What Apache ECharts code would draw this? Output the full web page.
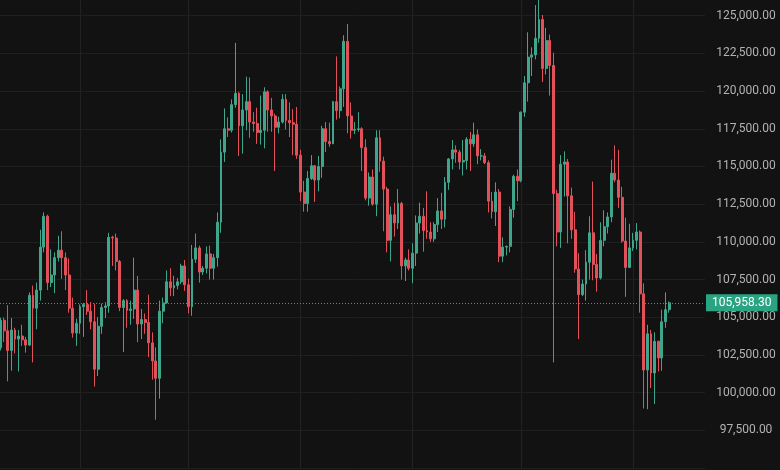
<!DOCTYPE html>
<html><head><meta charset="utf-8">
<script src="https://cdn.jsdelivr.net/npm/echarts@6/dist/echarts.min.js"></script>
<style>html,body{margin:0;padding:0;background:#121212;overflow:hidden;width:780px;height:470px;}
#c{position:absolute;left:0;top:-22px;width:780px;height:492px;}</style>
</head><body><div id="c"></div>
<script>
// Daily candles, rows are [open, high, low, close]
const mayRows = [ // from May 10
[102970,104970,102800,104800],[104800,104980,103350,104100],[104100,105800,100750,102800],[102800,104950,101450,104150],
[104150,104300,102600,103550],[103550,104150,101400,103750],[103750,104500,103100,103500],[103500,103700,102650,103150],
[103150,106650,103100,106450],[106450,107100,102000,105600],[105600,107300,104200,106800],[106800,110800,106100,109650],
[109650,111950,109300,111700],[111700,111800,106800,107300],[107300,109500,107000,107800],[107800,109300,106600,108950],
[108950,110400,108700,109450],[109450,110700,107550,108950],[108950,109300,106800,107800],[107800,108900,105300,105600],
[105600,106300,103650,103950],[103950,104900,103100,104600]];
const junRows = [
[104600,105850,103900,105700],[105700,105950,103700,105850],[105850,106800,105150,105400],[105400,106000,104200,104700],
[104700,105900,100400,101550],[101550,105000,101100,104400],[104400,105900,103900,105650],[105650,106000,104950,105750],
[105750,110600,105300,110300],[110300,110400,108400,110250],[110250,110550,108100,108700],[108700,108800,105400,105650],
[105650,106200,102700,106100],[106100,106200,104300,105450],[105450,106100,104500,105550],[105550,108950,104900,106800],
[106800,107750,103350,104550],[104550,105550,103550,104850],[104850,105250,103900,104650],[104650,106500,102350,103300],
[103300,104000,100850,102100],[102100,103000,98200,100950],[100950,106100,99600,105400],[105400,106300,104600,105950],
[105950,108100,105900,107350],[107350,108250,106400,106950],[106950,107750,106400,107100],[107100,107600,106850,107350],
[107350,108550,107200,108400],[108400,108800,106750,107150]];
const julRows = [
[107150,107550,105250,105700],[105700,109800,105100,108850],[108850,110550,108600,109600],[109600,109750,107300,108000],
[108000,108400,107800,108250],[108250,109700,107900,109200],[109200,109750,107500,108250],[108250,109200,107500,108950],
[108950,111950,108350,111300],[111300,116800,110600,115950],[115950,118850,115300,117500],[117500,118250,116950,117400],
[117400,119450,117250,119100],[119100,123200,118900,119850],[119850,119950,115700,117700],[117700,119800,115850,118750],
[118750,120950,117400,119300],[119300,120900,116900,117950],[117950,118600,117300,117850],[117850,118900,116500,117250],
[117250,119700,116450,117400],[117400,120250,116200,119950],[119950,120050,117300,118750],[118750,119550,117300,118350],
[118350,118500,114700,117600],[117600,118300,117200,117950],[117950,119800,117850,119450],[119450,119800,117450,118050],
[118050,119250,116950,117900],[117900,118800,115750,117800],[117800,118950,115500,115750]];
const augRows = [
[115750,116100,112700,113300],[113300,114050,112000,112550],[112550,114700,112000,114200],[114200,115750,114100,115050],
[115050,115100,112650,114100],[114100,115700,113350,115000],[115000,117700,114250,117500],[117500,117950,115950,116650],
[116650,117900,116300,116500],[116500,119350,116500,119300],[119300,122300,118100,118700],[118700,120300,118200,120150],
[120150,123700,118950,123300],[123300,124450,117200,118350],[118350,119250,116850,117400],[117400,117950,117150,117450],
[117450,118600,117300,117500],[117500,117600,114700,116250],[116250,116800,112750,112900],[112900,114600,112400,114300],
[114300,114800,112400,112500],[112500,117400,111700,116900],[116900,117400,114650,115350],[115350,115650,110700,113500],
[113500,113650,109300,110100],[110100,112350,108700,111800],[111800,112600,110350,111250],[111250,113500,110850,112550],
[112550,112650,107500,108400],[108400,108950,107400,108800],[108800,109500,108100,108250]];
const sepRows = [
[108250,109900,107250,109250],[109250,111750,108400,111250],[111250,112600,110550,111700],[111700,112250,109350,110750],
[110750,113350,110200,110650],[110650,111300,110000,110200],[110200,111300,110000,111150],[111150,112900,110650,112050],
[112050,113250,110850,111500],[111500,114300,110950,113950],[113950,115550,113450,115500],[115500,116750,114800,116100],
[116100,116400,115250,115950],[115950,116100,114800,115300],[115300,116750,114400,115400],[115400,116950,114800,116800],
[116800,117300,114700,116500],[116500,117900,116300,117100],[117100,117450,115150,115700],[115700,116150,115400,115700],
[115700,115900,115150,115250],[115250,115400,111950,112700],[112700,113300,111550,112000],[112000,113950,111050,113300],
[113300,113500,108650,109050],[109050,110300,108650,109650],[109650,109750,109100,109700],[109700,112350,109300,112150],
[112150,114450,111600,114350],[114350,114800,112700,114050]];
const octRows = [
[114050,118650,113950,118600],[118600,121000,118300,120550],[120550,123900,119300,122250],[122250,122900,121000,122400],
[122400,125700,122100,123500],[123500,126200,123200,124750],[124750,125050,120600,121500],[121500,124200,121100,123350],
[123350,123750,119700,121700],[121700,122550,102000,113200],[113200,113450,109700,110650],[110650,115750,109600,115150],
[115150,116000,113000,115300],[115300,115500,109900,113050],[113050,113600,110200,110800],[110800,112000,107950,108200],
[108200,109250,103550,106500],[106500,107500,106400,107200],[107200,109450,106100,108650],[108650,111700,107500,110600],
[110600,114000,107450,108500],[108500,109200,106700,107600],[107600,111300,107500,110100],[110100,112100,109700,111000],
[111000,111950,110550,111650],[111650,115450,111300,114550],[114550,116400,113950,114100],[114100,116100,112250,112950],
[112950,113650,109950,110050],[110050,111600,106350,108300],[108300,111200,108300,109600]];
const novRows = [
[109600,110600,109400,110100],[110100,111250,109500,110650],[110650,110750,105300,106550],[106550,107250,98950,101500],
[101500,104500,98900,103900],[103900,104150,100300,101300],[101300,104000,99250,103400],[103400,103450,101400,102300],
[102300,105500,101450,104700],[104700,106650,104300,105500],[105500,106050,105300,105958.3]];

const months = [
  {y:2025, m:5, d0:10, rows:mayRows},{y:2025, m:6, d0:1, rows:junRows},{y:2025, m:7, d0:1, rows:julRows},
  {y:2025, m:8, d0:1, rows:augRows},{y:2025, m:9, d0:1, rows:sepRows},{y:2025, m:10, d0:1, rows:octRows},
  {y:2025, m:11, d0:1, rows:novRows}];
const monthStarts = ['2025-06-01','2025-07-01','2025-08-01','2025-09-01','2025-10-01','2025-11-01'];
const lastPrice = 105958.30;
const yTicks = {min:95000, max:127500, step:2500};

function pad(n){return (n<10?'0':'')+n;}
const candles = [];
months.forEach(mo => mo.rows.forEach((r,k) => {
  candles.push([mo.y+'-'+pad(mo.m)+'-'+pad(mo.d0+k), r[0], r[3], r[2], r[1]]);
}));
function fmt(v){
  const s = v.toFixed(2); const parts = s.split('.');
  return parts[0].replace(/\B(?=(\d{3})+(?!\d))/g, ',') + '.' + parts[1];
}
function toTs(s){const p=s.split('-');return +new Date(+p[0],+p[1]-1,+p[2]);}

const UP='#3fa68b', DOWN='#e2505a', TEAL='#2aa383';
const chart = echarts.init(document.getElementById('c'), null, {renderer:'canvas'});
chart.setOption({
  backgroundColor:'#121212',
  animation:false,
  grid:{left:0, right:75, top:0, bottom:2},
  xAxis:{type:'time',
    min: +new Date(2025,4,9,20,41), max: +new Date(2025,10,20,22,22),
    axisLine:{show:false}, axisTick:{show:false}, axisLabel:{show:false}, splitLine:{show:false}},
  yAxis:{type:'value', position:'right', min:yTicks.min, max:yTicks.max, interval:yTicks.step,
    axisLine:{show:false}, axisTick:{show:false},
    splitLine:{lineStyle:{color:'#1f1f1f', width:1}},
    axisLabel:{showMinLabel:false, showMaxLabel:false, margin:41, align:'center', color:'#b2b2b2',
      fontFamily:'Roboto', fontSize:12, formatter:v=>fmt(v)}},
  series:[
    {type:'candlestick', data:candles, barWidth:2.4, z:3,
      itemStyle:{color:UP, color0:DOWN, borderColor:UP, borderColor0:DOWN, borderWidth:1},
      markLine:{silent:true, z:1, symbol:['none','none'], animation:false,
        label:{show:false}, lineStyle:{color:'#222222', width:1, type:'solid'},
        data: monthStarts.map(d=>({xAxis:toTs(d)}))}
    },
    {type:'line', data:[], z:5, silent:true,
      markLine:{silent:true, z:6, symbol:['none','none'], animation:false,
        lineStyle:{color:TEAL, width:1, type:[1,2]},
        label:{show:true, position:'end', distance:1, formatter:fmt(lastPrice), color:'#ffffff',
          backgroundColor:TEAL, padding:[3,6,2,6], fontFamily:'Roboto', fontSize:12},
        data:[{yAxis:lastPrice}]}
    }
  ]
});
</script></body></html>
